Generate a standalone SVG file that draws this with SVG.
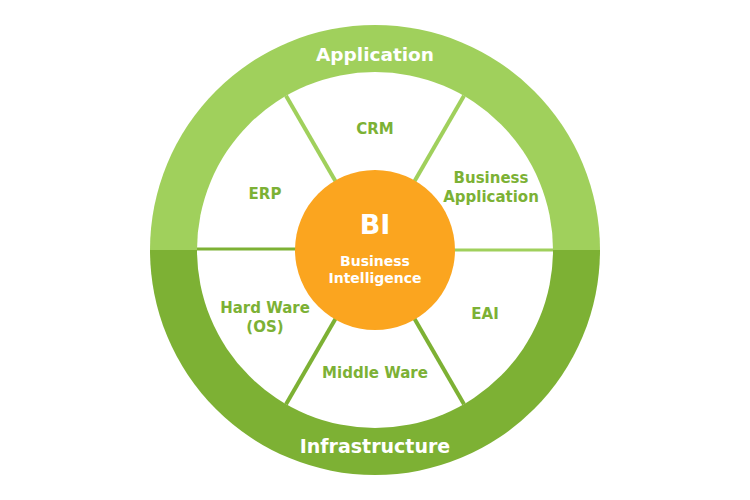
<svg xmlns="http://www.w3.org/2000/svg" width="750" height="500" viewBox="0 0 750 500">
<style>
.lbl{font-family:"DejaVu Sans",Verdana,sans-serif;font-weight:bold;fill:#7cb135;font-size:15px;text-anchor:middle}
.ring{font-family:"DejaVu Sans",Verdana,sans-serif;font-weight:bold;fill:#ffffff;text-anchor:middle}
.wt{font-family:"DejaVu Sans",Verdana,sans-serif;font-weight:bold;fill:#ffffff;text-anchor:middle}
.lt{stroke:#a0d05c;stroke-width:4;fill:none}
.dk{stroke:#7db134;stroke-width:4;fill:none}
</style>
<rect width="750" height="500" fill="#ffffff"/>
<g id="ring">
<path d="M150,250 A225,225 0 0 1 600,250 Z" fill="#a0d05c"/>
<path d="M150,250 A225,225 0 0 0 600,250 Z" fill="#7db134"/>
<circle cx="375" cy="250" r="178" fill="#ffffff"/>
</g>
<g id="connectors">
<line class="lt" x1="286" y1="95.8" x2="340" y2="189"/>
<line class="lt" x1="464" y1="95.8" x2="410" y2="189"/>
<line class="dk" x1="286" y1="404.2" x2="340" y2="311"/>
<line class="dk" x1="464" y1="404.2" x2="410" y2="311"/>
<line class="dk" style="stroke-width:3" x1="197" y1="249" x2="305" y2="249"/>
<line class="lt" style="stroke-width:3" x1="445" y1="250" x2="553" y2="250"/>
</g>
<g id="application">
<text class="ring" x="375" y="61" font-size="18.5">Application</text>
</g>
<g id="infrastructure">
<text class="ring" x="375" y="453" font-size="19">Infrastructure</text>
</g>
<g id="crm"><text class="lbl" x="375" y="134">CRM</text></g>
<g id="erp"><text class="lbl" x="265" y="199">ERP</text></g>
<g id="business-application"><text class="lbl" x="491" y="183">Business</text><text class="lbl" x="491" y="202">Application</text></g>
<g id="eai"><text class="lbl" x="485" y="319">EAI</text></g>
<g id="middle-ware"><text class="lbl" x="375" y="378">Middle Ware</text></g>
<g id="hard-ware"><text class="lbl" x="265" y="313">Hard Ware</text><text class="lbl" x="265" y="332">(OS)</text></g>
<g id="bi">
<circle cx="375" cy="250" r="80" fill="#fba51f"/>
<text class="wt" x="375" y="234" font-size="27">BI</text>
<text class="wt" x="375" y="266" font-size="14">Business</text>
<text class="wt" x="375" y="283" font-size="14">Intelligence</text>
</g>
</svg>
